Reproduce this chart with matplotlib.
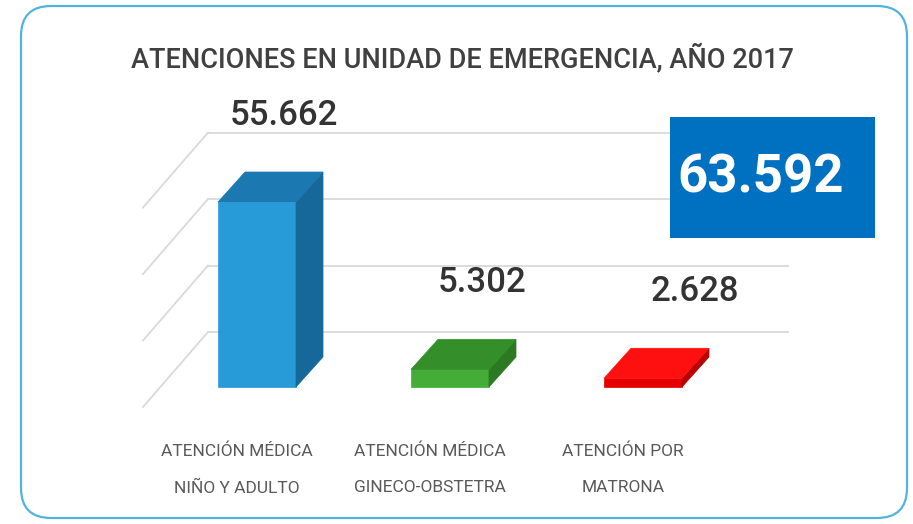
import matplotlib
matplotlib.use("Agg")
import matplotlib.pyplot as plt
from matplotlib.patches import Polygon, Rectangle, FancyBboxPatch

# datos
TITLE = "ATENCIONES EN UNIDAD DE EMERGENCIA, AÑO 2017"
CATEGORIES = ["ATENCIÓN MÉDICA\nNIÑO Y ADULTO",
              "ATENCIÓN MÉDICA\nGINECO-OBSTETRA",
              "ATENCIÓN POR\nMATRONA"]
VALUES = [55662, 5302, 2628]
GRID_VALUES = [0, 20000, 40000, 60000]

# colores: frente, lado, tapa
FRONT = ["#279bd8", "#43ad37", "#e40000"]
SIDE = ["#16679a", "#2b7a22", "#b80000"]
TOP = ["#1b78b0", "#348f2a", "#ff1010"]
GRID = "#d9d9d9"
FONT = ["Roboto", "DejaVu Sans"]


def fmt(v):
    return f"{v:,}".replace(",", ".")


W, H = 913, 524
SCALE = 185 / 55662   # pixeles por atencion
STEP = 193            # pixeles entre barras
X0 = 257              # centro de la primera barra
FLOOR = 387           # piso frontal

fig = plt.figure(figsize=(W / 100, H / 100), dpi=100)
ax = fig.add_axes([0, 0, 1, 1])
ax.set_xlim(-X0 / STEP, (W - X0) / STEP)
ax.set_ylim(-(H - FLOOR) / SCALE, FLOOR / SCALE)
ax.axis("off")


def px(dx, dy):
    # desplazamiento en pixeles (derecha, arriba) a unidades de datos
    return dx / STEP, dy / SCALE


# pared del fondo y pared lateral
wall_dx, wall_dy = px(47, 55)
left = -0.254
right = left + 580 / STEP
diag_dx, diag_dy = px(65, 75)
for g in GRID_VALUES:
    y = g + wall_dy
    ax.plot([left, right], [y, y], color=GRID, lw=1.3, zorder=1)
    ax.plot([left, left - diag_dx], [y, y - diag_dy], color=GRID, lw=1.3, zorder=1)

# barras 3d
bw = 78 / STEP
ddx, ddy = px(27, 30)
label_dx = [27, 32, 52]
for i, v in enumerate(VALUES):
    x0, x1 = i - bw / 2, i + bw / 2
    ax.add_patch(Polygon([(x0, 0), (x1, 0), (x1, v), (x0, v)],
                         closed=True, fc=FRONT[i], ec=FRONT[i], lw=0.5, zorder=3))
    ax.add_patch(Polygon([(x1, 0), (x1 + ddx, ddy), (x1 + ddx, v + ddy), (x1, v)],
                         closed=True, fc=SIDE[i], ec=SIDE[i], lw=0.5, zorder=3))
    ax.add_patch(Polygon([(x0, v), (x1, v), (x1 + ddx, v + ddy), (x0 + ddx, v + ddy)],
                         closed=True, fc=TOP[i], ec=TOP[i], lw=0.5, zorder=3))
    ax.text(i + label_dx[i] / STEP, v + 87 / SCALE, fmt(v), ha="center", va="center",
            fontsize=25, color="#333333", family=FONT, fontweight="medium", zorder=4)
    ax.text(i - 20 / STEP, -57 / SCALE, CATEGORIES[i], ha="center", va="top",
            fontsize=12.5, color="#595959", family=FONT, linespacing=2.75, zorder=4)

# capa en pixeles: marco, titulo y total
top = fig.add_axes([0, 0, 1, 1])
top.set_xlim(0, W)
top.set_ylim(H, 0)
top.axis("off")
top.patch.set_alpha(0)
top.add_patch(FancyBboxPatch((21, 6), 886, 512, boxstyle="round,pad=0,rounding_size=30",
                             fc="none", ec="#52b4dc", lw=1.6))
top.text(462, 58, TITLE, ha="center", va="center", fontsize=19.5, color="#404040",
         family=FONT, fontweight="medium")
top.add_patch(Rectangle((670, 117), 205, 121, fc="#0070c0", ec="none"))
top.text(761, 178, fmt(sum(VALUES)), ha="center", va="center", fontsize=38,
         color="white", fontweight="bold", family=FONT)

fig.savefig("out.png", dpi=100, facecolor="white")
